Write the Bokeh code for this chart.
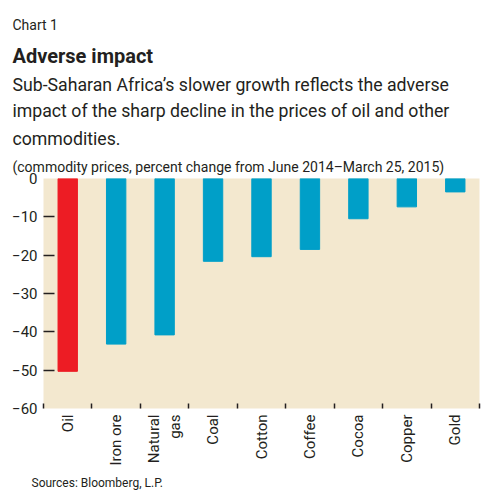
import math

from bokeh.plotting import figure
from bokeh.models import Range1d, FixedTicker, LinearAxis, ColumnDataSource, Title
from bokeh.embed import file_html
from bokeh.resources import INLINE

# leading no-break spaces keep "gas" flush with "Natural" on the rotated label
categories = ["Oil", "Iron ore", "Natural\n" + "\u00a0" * 6 + "gas", "Coal", "Cotton",
              "Coffee", "Cocoa", "Copper", "Gold"]
changes = [-50.3, -43.2, -40.8, -21.6, -20.4, -18.5, -10.5, -7.4, -3.5]
bar_colors = ["#ed1c24"] + ["#009fc8"] * 8
y_ticks = [0, -10, -20, -30, -40, -50, -60]

FONT = "Roboto"
INK = "#231f20"

x_pos = [i + 0.5 for i in range(len(categories))]
src = ColumnDataSource(dict(x=x_pos, top=changes, color=bar_colors))

p = figure(width=484, height=494, output_backend="svg", toolbar_location=None,
           x_range=Range1d(0, len(categories)), y_range=Range1d(-60, 0),
           min_border_left=43, min_border_right=5, min_border_top=178,
           min_border_bottom=86, x_axis_location=None, y_axis_location=None)
p.background_fill_color = "#f3e8cf"
p.border_fill_color = "white"
p.outline_line_color = None
p.xgrid.visible = False
p.ygrid.visible = False

p.vbar(x="x", top="top", bottom=0, width=0.4, color="color", source=src)

# y axis: labels on major ticks, marks drawn as minor ticks
yaxis = LinearAxis(ticker=FixedTicker(ticks=y_ticks, minor_ticks=y_ticks[1:-1]))
yaxis.axis_line_color = None
yaxis.major_tick_in = 0
yaxis.major_tick_out = 0
yaxis.minor_tick_in = 11
yaxis.minor_tick_out = 0
yaxis.minor_tick_line_color = INK
yaxis.minor_tick_line_width = 1.5
yaxis.major_label_text_font = FONT
yaxis.major_label_text_font_size = "15px"
yaxis.major_label_text_color = INK
yaxis.major_label_standoff = 6
p.add_layout(yaxis, "left")

# x axis: category labels at centres, tick marks at boundaries
xaxis = LinearAxis(ticker=FixedTicker(ticks=x_pos,
                                      minor_ticks=list(range(len(categories) + 1))))
xaxis.major_label_overrides = {x: c for x, c in zip(x_pos, categories)}
xaxis.major_label_orientation = math.pi / 2
xaxis.axis_line_color = None
xaxis.major_tick_in = 0
xaxis.major_tick_out = 0
xaxis.minor_tick_in = 5
xaxis.minor_tick_out = 0
xaxis.minor_tick_line_color = INK
xaxis.minor_tick_line_width = 1.5
xaxis.major_label_text_font = FONT
xaxis.major_label_text_font_size = "15px"
xaxis.major_label_text_color = INK
xaxis.major_label_standoff = 6
p.add_layout(xaxis, "below")


def heading(text, size, side="above", offset=-31, standoff=0, bold=False):
    p.add_layout(Title(text=text, align="left", offset=offset, standoff=standoff,
                       text_font=FONT, text_font_size=size, text_color=INK,
                       text_font_style="bold" if bold else "normal"), side)


# added from the plot outwards
heading("(commodity prices, percent change from June 2014\u2013March 25, 2015)", "14px",
        standoff=7)
heading("commodities.", "17.7px", standoff=9)
heading("impact of the sharp decline in the prices of oil and other", "17.7px", standoff=4)
heading("Sub-Saharan Africa\u2019s slower growth reflects the adverse", "17.7px", standoff=3)
heading("Adverse impact", "20px", standoff=8, bold=True)
heading("Chart 1", "14px", standoff=9)
heading("Sources: Bloomberg, L.P.", "12px", side="below", offset=-12, standoff=10)

open("out.html", "w").write(file_html(p, INLINE))
